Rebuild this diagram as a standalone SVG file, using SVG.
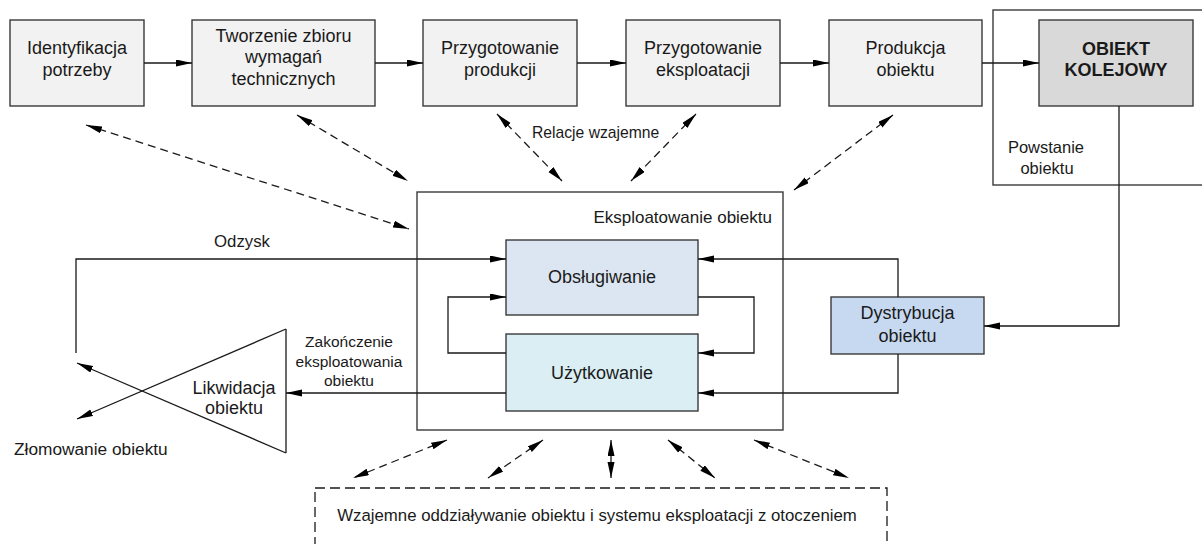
<svg xmlns="http://www.w3.org/2000/svg" width="1202" height="544" viewBox="0 0 1202 544">
  <defs>
    <marker id="head" markerUnits="userSpaceOnUse" markerWidth="17" markerHeight="8" refX="16" refY="3.5" orient="auto-start-reverse">
      <path d="M0,0 L16,3.5 L0,7 z" fill="#000"/>
    </marker>
  </defs>
  <style>
    .box { stroke: #3a3a3a; stroke-width: 1.4; }
    .grey { fill: #f2f2f2; }
    .t { font-family: "Liberation Sans", Arial, sans-serif; font-size: 18px; fill: #1a1a1a; text-anchor: middle; }
    .b { font-weight: bold; }
    .lbl { font-family: "Liberation Sans", Arial, sans-serif; font-size: 16px; fill: #1a1a1a; }
    .mid { text-anchor: middle; }
    .end { text-anchor: end; }
    .line { fill: none; stroke: #1a1a1a; stroke-width: 1.3; }
    .arr { fill: none; stroke: #1a1a1a; stroke-width: 1.3; marker-end: url(#head); }
    .dash2 { fill: none; stroke: #1a1a1a; stroke-width: 1.3; stroke-dasharray: 8 5; marker-start: url(#head); marker-end: url(#head); }
  </style>

  <rect width="1202" height="544" fill="#fff"/>

  <!-- frame of the object-creation phase -->
  <g id="powstanie">
    <rect x="993" y="10" width="230" height="175" fill="none" class="box"/>
    <text class="lbl mid" x="1046" y="153" style="font-size:16.5px">Powstanie</text>
    <text class="lbl mid" x="1047" y="174" style="font-size:16.5px">obiektu</text>
  </g>

  <!-- top process chain -->
  <g id="identyfikacja">
    <rect x="10" y="20" width="134" height="86" class="box grey"/>
    <text class="t" x="77" y="54">Identyfikacja</text>
    <text class="t" x="77" y="76">potrzeby</text>
  </g>
  <g id="tworzenie">
    <rect x="192" y="20" width="183" height="86" class="box grey"/>
    <text class="t" x="283.5" y="42">Tworzenie zbioru</text>
    <text class="t" x="283.5" y="63">wymagań</text>
    <text class="t" x="283.5" y="85">technicznych</text>
  </g>
  <g id="przyg-produkcji">
    <rect x="423" y="20" width="154" height="86" class="box grey"/>
    <text class="t" x="500" y="54">Przygotowanie</text>
    <text class="t" x="500" y="76">produkcji</text>
  </g>
  <g id="przyg-eksploatacji">
    <rect x="626" y="20" width="154" height="86" class="box grey"/>
    <text class="t" x="703" y="54">Przygotowanie</text>
    <text class="t" x="703" y="76">eksploatacji</text>
  </g>
  <g id="produkcja">
    <rect x="829" y="20" width="153" height="86" class="box grey"/>
    <text class="t" x="905.5" y="54">Produkcja</text>
    <text class="t" x="905.5" y="76">obiektu</text>
  </g>
  <g id="obiekt">
    <rect x="1039" y="20" width="154" height="86" class="box" fill="#d9d9d9"/>
    <text class="t b" x="1116" y="55">OBIEKT</text>
    <text class="t b" x="1116" y="76">KOLEJOWY</text>
  </g>

  <!-- operation phase -->
  <g id="eksploatowanie">
    <rect x="417" y="192" width="366" height="238" fill="none" class="box"/>
    <text class="lbl end" x="772" y="223" style="font-size:17px">Eksploatowanie obiektu</text>
  </g>
  <g id="obslugiwanie">
    <rect x="506" y="240" width="192" height="75" class="box" fill="#dce6f2"/>
    <text class="t" x="602" y="283">Obsługiwanie</text>
  </g>
  <g id="uzytkowanie">
    <rect x="506" y="334" width="192" height="77" class="box" fill="#dbeef4"/>
    <text class="t" x="602" y="379">Użytkowanie</text>
  </g>
  <g id="dystrybucja">
    <rect x="831" y="297" width="153" height="57" class="box" fill="#c6d9f1"/>
    <text class="t" x="907.5" y="319">Dystrybucja</text>
    <text class="t" x="907.5" y="342">obiektu</text>
  </g>
  <g id="likwidacja">
    <path d="M286,329 L286,453" class="line"/>
    <text class="t" x="234" y="394">Likwidacja</text>
    <text class="t" x="234" y="414">obiektu</text>
  </g>
  <g id="otoczenie">
    <rect x="315" y="488" width="572" height="80" fill="none" stroke="#1a1a1a" stroke-width="1.3" stroke-dasharray="10 5"/>
    <text class="lbl mid" x="597" y="521" style="font-size:16.8px">Wzajemne oddziaływanie obiektu i systemu eksploatacji z otoczeniem</text>
  </g>

  <!-- connectors -->
  <g id="connectors">
    <!-- top chain -->
    <path d="M144,63 H192" class="arr"/>
    <path d="M375,63 H423" class="arr"/>
    <path d="M577,63 H626" class="arr"/>
    <path d="M780,63 H829" class="arr"/>
    <path d="M982,63 H1039" class="arr"/>

    <!-- object to distribution -->
    <path d="M1119,106 V326 H984" class="arr"/>
    <!-- distribution to maintenance and use -->
    <path d="M898,297 V259 H698" class="arr"/>
    <path d="M898,354 V393 H698" class="arr"/>

    <!-- maintenance / use loop -->
    <path d="M506,353 H448 V297 H506" class="arr"/>
    <path d="M698,297 H754 V353 H698" class="arr"/>

    <!-- recovery -->
    <path d="M76,353 V259 H506" class="arr"/>
    <text class="lbl mid" x="242" y="247" style="font-size:16.8px">Odzysk</text>

    <!-- end of operation -->
    <path d="M506,393 H286" class="arr"/>
    <text class="lbl mid" x="349" y="347" style="font-size:15.5px">Zakończenie</text>
    <text class="lbl mid" x="349" y="367" style="font-size:15.5px">eksploatowania</text>
    <text class="lbl mid" x="349" y="386" style="font-size:15.5px">obiektu</text>

    <!-- liquidation outputs -->
    <path d="M286,329 L77,419" class="arr"/>
    <path d="M286,453 L77,363" class="arr"/>
    <text class="lbl" x="14" y="455" style="font-size:17.3px">Złomowanie obiektu</text>

    <!-- mutual relations -->
    <path d="M86,125 L409,229" class="dash2"/>
    <path d="M297,115 L408,181" class="dash2"/>
    <path d="M497,114 L562,181" class="dash2"/>
    <path d="M696,114 L631,181" class="dash2"/>
    <path d="M893,115 L794,190" class="dash2"/>
    <text class="lbl" x="532" y="138" style="font-size:15.7px">Relacje wzajemne</text>

    <!-- interaction with the environment -->
    <path d="M447,440 L353,478" class="dash2"/>
    <path d="M543,440 L488,478" class="dash2"/>
    <path d="M611,440 L611,478" class="line" marker-start="url(#head)" marker-end="url(#head)"/>
    <path d="M668,440 L715,478" class="dash2"/>
    <path d="M754,440 L849,478" class="dash2"/>
  </g>
</svg>
